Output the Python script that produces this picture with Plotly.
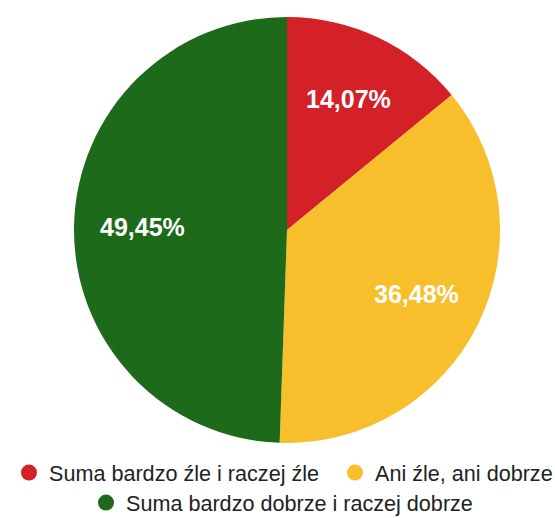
import math
import plotly.graph_objects as go

labels = ["Suma bardzo źle i raczej źle", "Ani źle, ani dobrze", "Suma bardzo dobrze i raczej dobrze"]
values = [14.07, 36.48, 49.45]
text_labels = ["14,07%", "36,48%", "49,45%"]
colors = ["#d42027", "#f6bf2b", "#1d6a1b"]
legend_ids = ["legend", "legend2", "legend3"]

W, H = 555, 518
CX, CY, R = 287, 230, 213
FONT = "Liberation Sans, Arial, sans-serif"

fig = go.Figure()
fig.add_trace(go.Pie(
    labels=labels, values=values,
    textinfo="none",
    marker=dict(colors=colors, line=dict(width=0)),
    sort=False, direction="clockwise", rotation=0,
    domain=dict(x=[(CX - R) / W, (CX + R) / W], y=[1 - (CY + R) / H, 1 - (CY - R) / H]),
    showlegend=False, hoverinfo="label+text", text=text_labels,
))
for lab, col, lg in zip(labels, colors, legend_ids):
    fig.add_trace(go.Scatter(
        x=[None], y=[None], mode="markers", name=lab, legend=lg,
        marker=dict(symbol="circle", size=16, color=col),
        showlegend=True,
    ))

# data labels placed along each slice's mid-angle
total = sum(values)
cum = 0.0
for v, t in zip(values, text_labels):
    mid = (cum + v / 2) / total * 2 * math.pi
    cum += v
    rr = 0.68 * R
    fig.add_annotation(
        x=(CX + rr * math.sin(mid)) / W, y=1 - (CY - rr * math.cos(mid)) / H,
        xref="paper", yref="paper", text=t, showarrow=False,
        xanchor="center", yanchor="middle",
        font=dict(family=FONT, size=25, color="white", weight="bold"),
    )

def leg(xpx, ypx):
    return dict(orientation="h", x=xpx / W, xanchor="left", y=1 - ypx / H, yanchor="middle",
                xref="paper", yref="paper", font=dict(size=21.6, color="#222"),
                itemwidth=30, bgcolor="rgba(0,0,0,0)", borderwidth=0)

fig.update_layout(
    width=W, height=H,
    margin=dict(l=0, r=0, t=0, b=0, autoexpand=False),
    paper_bgcolor="white", plot_bgcolor="white",
    xaxis=dict(visible=False), yaxis=dict(visible=False),
    font=dict(family=FONT, size=21, color="#222"),
    legend=leg(9, 473),
    legend2=leg(335, 473),
    legend3=leg(86, 503),
)
fig.write_html("out.html", config={"displayModeBar": False},
               post_script="document.body.style.margin='0';")
